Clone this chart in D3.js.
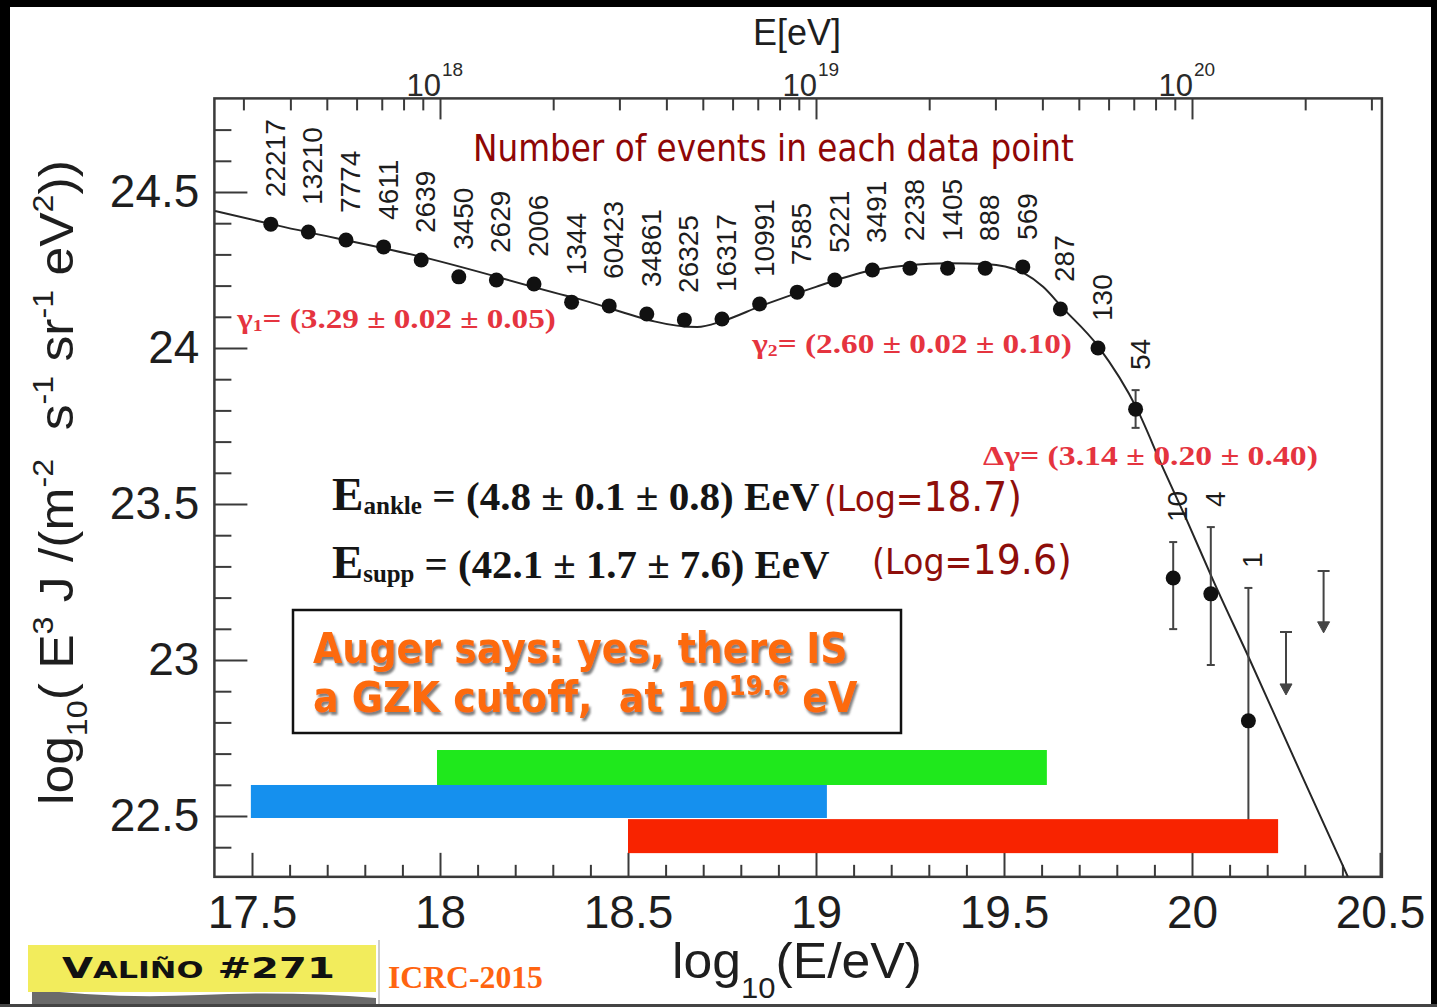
<!DOCTYPE html>
<html>
<head>
<meta charset="utf-8">
<script src="https://cdn.jsdelivr.net/npm/d3@7"></script>
<style>
  html, body { margin: 0; padding: 0; background: #fff; }
  svg { display: block; }
</style>
</head>
<body>
<svg id="chart" width="1437" height="1007"></svg>
<script>
// ---- Auger combined spectrum, ICRC 2015 ----
// bin centres, log10(E/eV)
const logE = [17.55, 17.65, 17.75, 17.85, 17.95, 18.05, 18.15, 18.25, 18.35, 18.45,
              18.55, 18.65, 18.75, 18.85, 18.95, 19.05, 19.15, 19.25, 19.35, 19.45,
              19.55, 19.65, 19.75, 19.85, 19.95, 20.05, 20.15];
// log10(E^3 J)
const fluxE3J = [24.397, 24.372, 24.346, 24.324, 24.282, 24.228, 24.218, 24.205, 24.147, 24.135,
                 24.109, 24.090, 24.093, 24.141, 24.179, 24.218, 24.250, 24.256, 24.256, 24.256,
                 24.260, 24.125, 24.000, 23.804, 23.263, 23.212, 22.805];
// number of events per bin
const eventCounts = ["22217", "13210", "7774", "4611", "2639", "3450", "2629", "2006", "1344", "60423",
                     "34861", "26325", "16317", "10991", "7585", "5221", "3491", "2238", "1405", "888",
                     "569", "287", "130", "54", "10", "4", "1"];
// visible error bars (null where hidden behind the marker)
const errHigh = [null, null, null, null, null, null, null, null, null, null,
                 null, null, null, null, null, null, null, null, null, null,
                 null, null, null, 23.865, 23.378, 23.426, 23.231];
const errLow  = [null, null, null, null, null, null, null, null, null, null,
                 null, null, null, null, null, null, null, null, null, null,
                 null, null, null, 23.744, 23.099, 22.984, 22.40];
// upper limits (84% C.L.)
const limitLogE = [20.25, 20.35];
const limitTop  = [23.090, 23.285];
const limitTip  = [22.888, 23.087];
// fitted broken power law with suppression
const fitLogE  = [17.402, 17.551, 17.952, 18.351, 18.684, 18.753, 18.854, 19.000, 19.152, 19.351,
                  19.452, 19.503, 19.553, 19.604, 19.654, 19.750, 19.854, 19.923, 19.987, 20.056,
                  20.154, 20.295, 20.415];
const fitValue = [24.439, 24.397, 24.292, 24.163, 24.067, 24.087, 24.135, 24.196, 24.250, 24.272,
                  24.269, 24.261, 24.240, 24.196, 24.131, 24.006, 23.804, 23.615, 23.446, 23.256,
                  23.000, 22.622, 22.304];
// energy ranges of the data sets
const bandColor  = ["#1fe81c", "#1590ee", "#f82300"];
const bandFrom   = [17.992, 17.497, 18.500];
const bandTo     = [19.614, 19.029, 20.229];
const bandTop    = [22.7115, 22.5994, 22.490];
const bandBottom = [22.5994, 22.4936, 22.381];
// axis ticks
const xMajorTicks = [17.5, 18, 18.5, 19, 19.5, 20, 20.5];
const xMinorTicks = [17.6, 17.7, 17.8, 17.9, 18.1, 18.2, 18.3, 18.4, 18.6, 18.7, 18.8, 18.9,
                     19.1, 19.2, 19.3, 19.4, 19.6, 19.7, 19.8, 19.9, 20.1, 20.2, 20.3, 20.4];
const yMajorTicks = [22.5, 23, 23.5, 24, 24.5];
const yMinorTicks = [22.4, 22.6, 22.7, 22.8, 22.9, 23.1, 23.2, 23.3, 23.4, 23.6, 23.7, 23.8, 23.9,
                     24.1, 24.2, 24.3, 24.4, 24.6, 24.7];
const energyDecades = [18, 19, 20];
const energyMultipliers = [2, 3, 4, 5, 6, 7, 8, 9];

const svg = d3.select("#chart");
const x = d3.scaleLinear().domain([17.5, 20.5]).range([252, 1380]);
const y = d3.scaleLinear().domain([22.5, 24.5]).range([816, 192]);
const X0 = x(17.4), X1 = x(20.505), Y0 = y(24.8), Y1 = y(22.305);

// squeeze a text element horizontally to a given width
function fitWidth(sel, w) {
  const bb = sel.node().getBBox();
  const s = w / bb.width;
  sel.attr("transform", `translate(${bb.x},0) scale(${s},1) translate(${-bb.x},0)`);
}

const defs = svg.append("defs");
const sh = defs.append("filter").attr("id", "shadow").attr("x", "-5%").attr("y", "-20%")
  .attr("width", "115%").attr("height", "150%");
sh.append("feDropShadow").attr("dx", 2).attr("dy", 3).attr("stdDeviation", 1.3)
  .attr("flood-color", "#555").attr("flood-opacity", 0.75);
defs.append("clipPath").attr("id", "plotclip").append("rect")
  .attr("x", X0).attr("y", Y0).attr("width", X1 - X0).attr("height", Y1 - Y0);

svg.append("rect").attr("width", 1437).attr("height", 1007).attr("fill", "#fff");

// ---- axes ----
const axisColor = "#3a3a3a";
function styleAxis(g) {
  g.select(".domain").remove();
  g.selectAll(".tick line").attr("stroke", axisColor).attr("stroke-width", 2);
  g.selectAll("text").attr("fill", "#1e1e1e").attr("font-family", "'Liberation Sans', Arial, sans-serif");
}
// bottom
svg.append("g").attr("transform", `translate(0,${Y1})`)
  .call(d3.axisBottom(x).tickValues(xMinorTicks).tickSizeInner(-12).tickSizeOuter(0).tickFormat(""))
  .call(styleAxis);
const bx = svg.append("g").attr("transform", `translate(0,${Y1})`)
  .call(d3.axisBottom(x).tickValues(xMajorTicks).tickSizeInner(-24).tickSizeOuter(0).tickFormat(d3.format("")))
  .call(styleAxis);
bx.selectAll("text").attr("font-size", 46).attr("y", 51).attr("dy", 0);
// left
svg.append("g").attr("transform", `translate(${X0},0)`)
  .call(d3.axisLeft(y).tickValues(yMinorTicks).tickSizeInner(-17).tickSizeOuter(0).tickFormat(""))
  .call(styleAxis);
const ly = svg.append("g").attr("transform", `translate(${X0},0)`)
  .call(d3.axisLeft(y).tickValues(yMajorTicks).tickSizeInner(-33).tickSizeOuter(0).tickPadding(15)
        .tickFormat(d3.format("")))
  .call(styleAxis);
ly.selectAll("text").attr("font-size", 46).attr("dy", "0.32em");
// top: energy in eV
const eMinor = [];
[17, 18, 19, 20].forEach(n => energyMultipliers.forEach(k => {
  const v = n + Math.log10(k);
  if (v > 17.4 && v < 20.505) eMinor.push(v);
}));
svg.append("g").attr("transform", `translate(0,${Y0})`)
  .call(d3.axisTop(x).tickValues(eMinor).tickSizeInner(-12).tickSizeOuter(0).tickFormat(""))
  .call(styleAxis);
const tx = svg.append("g").attr("transform", `translate(0,${Y0})`)
  .call(d3.axisTop(x).tickValues(energyDecades).tickSizeInner(-21).tickSizeOuter(0).tickFormat(""))
  .call(styleAxis);
tx.selectAll(".tick").each(function(d) {
  const t = d3.select(this).append("text").attr("y", -2).attr("fill", "#2a2a2a")
    .attr("font-family", "'Liberation Sans', Arial, sans-serif").attr("text-anchor", "start");
  t.append("tspan").attr("x", -34).attr("font-size", 31).text("10");
  t.append("tspan").attr("font-size", 19).attr("dy", -20).attr("dx", 1).text(d);
});
// frame
svg.append("rect").attr("x", X0).attr("y", Y0).attr("width", X1 - X0).attr("height", Y1 - Y0)
  .attr("fill", "none").attr("stroke", axisColor).attr("stroke-width", 2.5);

// ---- fit curve ----
const fitLine = d3.line().x((d, i) => x(fitLogE[i])).y((d, i) => y(fitValue[i])).curve(d3.curveMonotoneX);
svg.append("path").datum(fitValue).attr("d", fitLine).attr("fill", "none")
  .attr("stroke", "#262626").attr("stroke-width", 2).attr("clip-path", "url(#plotclip)");

// ---- error bars ----
const eb = svg.append("g").attr("stroke", "#444").attr("stroke-width", 2).attr("clip-path", "url(#plotclip)");
logE.forEach((e, i) => {
  if (errHigh[i] === null) return;
  const cx = x(e);
  eb.append("line").attr("x1", cx).attr("x2", cx).attr("y1", y(errHigh[i])).attr("y2", y(errLow[i]));
  eb.append("line").attr("x1", cx - 4).attr("x2", cx + 4).attr("y1", y(errHigh[i])).attr("y2", y(errHigh[i]));
  eb.append("line").attr("x1", cx - 4).attr("x2", cx + 4).attr("y1", y(errLow[i])).attr("y2", y(errLow[i]));
});
limitLogE.forEach((e, i) => {
  const cx = x(e), yt = y(limitTop[i]), yb = y(limitTip[i]);
  eb.append("line").attr("x1", cx).attr("x2", cx).attr("y1", yt).attr("y2", yb - 4);
  eb.append("line").attr("x1", cx - 6).attr("x2", cx + 6).attr("y1", yt).attr("y2", yt);
  eb.append("path").attr("d", `M${cx - 6},${yb - 11} L${cx},${yb} L${cx + 6},${yb - 11} Z`)
    .attr("fill", "#444").attr("stroke-width", 1);
});

// ---- data-set bands (drawn over the last error bar) ----
const bands = svg.append("g");
bandColor.forEach((c, i) => {
  bands.append("rect").attr("x", x(bandFrom[i])).attr("y", y(bandTop[i]))
    .attr("width", x(bandTo[i]) - x(bandFrom[i])).attr("height", y(bandBottom[i]) - y(bandTop[i]))
    .attr("fill", c);
});

// ---- data points ----
svg.append("g").selectAll("circle").data(fluxE3J).join("circle")
  .attr("cx", (d, i) => x(logE[i])).attr("cy", d => y(d)).attr("r", 7.5).attr("fill", "#111");

// ---- event counts ----
svg.append("g").selectAll("text").data(eventCounts).join("text")
  .attr("transform", (d, i) => {
    const top = errHigh[i] !== null ? y(errHigh[i]) - 20 : y(fluxE3J[i]) - 27;
    return `translate(${x(logE[i]) + 4},${top}) rotate(-90)`;
  })
  .attr("dy", "0.36em").attr("font-size", 28).attr("fill", "#1c1c1c")
  .attr("font-family", "'Liberation Sans', Arial, sans-serif").text(d => d);

// ---- axis titles ----
const xt = svg.append("text").attr("x", 672).attr("y", 978).attr("fill", "#1e1e1e")
  .attr("font-family", "'Liberation Sans', Arial, sans-serif").attr("font-size", 50);
xt.append("tspan").text("log");
xt.append("tspan").attr("font-size", 30).attr("dy", 20).text("10");
xt.append("tspan").attr("dy", -20).text("(E/eV)");
fitWidth(xt, 250);

svg.append("text").attr("x", 797).attr("y", 45).attr("text-anchor", "middle").attr("fill", "#1e1e1e")
  .attr("font-family", "'Liberation Sans', Arial, sans-serif").attr("font-size", 36).text("E[eV]");

const yg = svg.append("g").attr("transform", "translate(73,805) rotate(-90)");
const yt = yg.append("text").attr("x", 0).attr("y", 0).attr("fill", "#1e1e1e")
  .attr("font-family", "'Liberation Sans', Arial, sans-serif").attr("font-size", 48);
[["log", 48, 0], ["10", 30, 14], ["(\u00a0E", 48, -14], ["3", 30, -20], ["\u00a0J\u00a0/(m", 48, 20],
 ["-2", 30, -20], ["\u00a0\u00a0s", 48, 20], ["-1", 30, -20], ["\u00a0sr", 48, 20], ["-1", 30, -20],
 ["\u00a0eV", 48, 20], ["2", 30, -20], ["))", 48, 20]].forEach(([s, fs, dy]) => {
  yt.append("tspan").attr("font-size", fs).attr("dy", dy).text(s);
});
fitWidth(yt, 645);

// ---- annotations ----
svg.append("text").attr("x", 473).attr("y", 161).attr("fill", "#8e0606")
  .attr("font-family", "'DejaVu Sans', Verdana, sans-serif").attr("font-size", 37)
  .text("Number of events in each data point").call(s => fitWidth(s, 601));

function gammaLabel(x0, y0, w, prefix, sub, rest) {
  const t = svg.append("text").attr("x", x0).attr("y", y0).attr("fill", "#e5343f")
    .attr("font-family", "'Liberation Serif', 'Times New Roman', serif").attr("font-weight", "bold")
    .attr("font-size", 27);
  t.append("tspan").text(prefix);
  if (sub) t.append("tspan").attr("font-size", 16).attr("dy", 3).text(sub);
  t.append("tspan").attr("dy", sub ? -3 : 0).text(rest);
  fitWidth(t, w);
}
gammaLabel(237, 328, 320, "\u03b3", "1", "= (3.29 \u00b1 0.02 \u00b1 0.05)");
gammaLabel(752, 353, 321, "\u03b3", "2", "= (2.60 \u00b1 0.02 \u00b1 0.10)");
gammaLabel(983, 465, 335, "\u0394\u03b3", "", "= (3.14 \u00b1 0.20 \u00b1 0.40)");

function energyLine(x0, y0, w, sub, rest) {
  const t = svg.append("text").attr("x", x0).attr("y", y0).attr("fill", "#151515")
    .attr("font-family", "'Liberation Serif', 'Times New Roman', serif").attr("font-weight", "bold");
  t.append("tspan").attr("font-size", 47).text("E");
  t.append("tspan").attr("font-size", 25).attr("dy", 4).text(sub);
  t.append("tspan").attr("font-size", 41).attr("dy", -4).text(rest);
  fitWidth(t, w);
}
energyLine(332, 510, 488, "ankle", " = (4.8 \u00b1 0.1 \u00b1 0.8) EeV");
energyLine(332, 578, 498, "supp", " = (42.1 \u00b1 1.7 \u00b1 7.6) EeV");

function logNote(x0, y0, w, val) {
  const t = svg.append("text").attr("x", x0).attr("y", y0).attr("fill", "#8e0e0a")
    .attr("font-family", "'DejaVu Sans', Verdana, sans-serif");
  t.append("tspan").attr("font-size", 36).text("(Log=");
  t.append("tspan").attr("font-size", 41).text(val + ")");
  fitWidth(t, w);
}
logNote(824, 511, 198, "18.7");
logNote(872, 574, 200, "19.6");

// ---- statement box ----
svg.append("rect").attr("x", 293).attr("y", 610).attr("width", 608).attr("height", 123)
  .attr("fill", "#fff").attr("stroke", "#111").attr("stroke-width", 2.5);
const o1 = svg.append("text").attr("x", 313).attr("y", 663).attr("fill", "#fd6a0a")
  .attr("font-family", "'DejaVu Sans', Verdana, sans-serif").attr("font-weight", "bold")
  .attr("font-size", 42).attr("filter", "url(#shadow)").text("Auger says: yes, there IS");
fitWidth(o1, 535);
const o2 = svg.append("text").attr("x", 313).attr("y", 712).attr("fill", "#fd6a0a")
  .attr("font-family", "'DejaVu Sans', Verdana, sans-serif").attr("font-weight", "bold")
  .attr("font-size", 42).attr("filter", "url(#shadow)");
o2.append("tspan").text("a GZK cutoff,\u00a0\u00a0at 10");
o2.append("tspan").attr("font-size", 27).attr("dy", -17).text("19.6");
o2.append("tspan").attr("dy", 17).text("\u00a0eV");
fitWidth(o2, 545);

// ---- footer ----
svg.append("path").attr("d", "M32,989 Q110,999 200,995 T376,998 L376,1004 L32,1004 Z").attr("fill", "#6a6a6a");
svg.append("rect").attr("x", 28).attr("y", 945).attr("width", 348).attr("height", 47).attr("fill", "#f2ec5c");
const tag = svg.append("text").attr("x", 62).attr("y", 978).attr("fill", "#111")
  .attr("font-family", "'DejaVu Sans', Verdana, sans-serif").attr("font-weight", "bold");
tag.append("tspan").attr("font-size", 29).text("V");
tag.append("tspan").attr("font-size", 23).text("ALI\u00d1O");
tag.append("tspan").attr("font-size", 29).text(" #271");
fitWidth(tag, 273);
svg.append("line").attr("x1", 379).attr("x2", 379).attr("y1", 940).attr("y2", 1004)
  .attr("stroke", "#bbb").attr("stroke-width", 1.5);
svg.append("text").attr("x", 388).attr("y", 988).attr("fill", "#ff6410")
  .attr("font-family", "'Liberation Serif', 'Times New Roman', serif").attr("font-weight", "bold")
  .attr("font-size", 32).text("ICRC-2015").call(s => fitWidth(s, 155));

// ---- slide border ----
svg.append("rect").attr("x", 0).attr("y", 0).attr("width", 10).attr("height", 1007).attr("fill", "#000");
svg.append("rect").attr("x", 0).attr("y", 0).attr("width", 1437).attr("height", 7).attr("fill", "#000");
svg.append("rect").attr("x", 1431).attr("y", 0).attr("width", 6).attr("height", 1007).attr("fill", "#000");
svg.append("rect").attr("x", 0).attr("y", 1004).attr("width", 1437).attr("height", 3).attr("fill", "#444");
</script>
</body>
</html>
